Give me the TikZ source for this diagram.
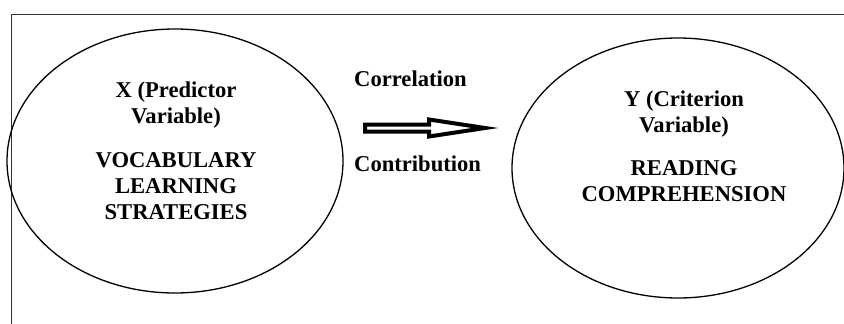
\documentclass[tikz,border=0pt]{standalone}
\usepackage{fontspec}
\setmainfont{Liberation Serif}
\usetikzlibrary{shapes.geometric}
\begin{document}
\begin{tikzpicture}[x=1pt,y=-1pt,
    frameline/.style={draw=black!80, line width=1pt},
    varellipse/.style={ellipse, draw=black, line width=1.3pt, inner sep=0pt, outer sep=0pt},
    vartext/.style={anchor=base, inner sep=0pt, font=\fontsize{22.6}{26}\selectfont\bfseries},
    hollowarrow/.style={draw=black, fill=white, line width=4pt, line join=miter, miter limit=10}]
  \useasboundingbox (0,0) rectangle (844,324);

  % open frame: left and top edges only
  \draw[frameline] (11,324) -- (11,14) -- (844,14);

  % the two variables
  \node[varellipse, minimum width=336pt, minimum height=264pt] (pred) at (175,161) {};
  \node[varellipse, minimum width=332pt, minimum height=260pt] (crit) at (678,168) {};

  % predictor labels
  \node[vartext] (p1) at (176,97)  {X (Predictor};
  \node[vartext] (p2) at (176,123) {Variable)};
  \node[vartext] (p3) at (176,167) {VOCABULARY};
  \node[vartext] (p4) at (176,193) {LEARNING};
  \node[vartext] (p5) at (176,219) {STRATEGIES};

  % criterion labels
  \node[vartext] (c1) at (684,106) {Y (Criterion};
  \node[vartext] (c2) at (684,132) {Variable)};
  \node[vartext] (c3) at (684,175) {READING};
  \node[vartext] (c4) at (684,201) {COMPREHENSION};

  % relation labels
  \node[vartext, anchor=base west] (rel1) at (354,86)  {Correlation};
  \node[vartext, anchor=base west] (rel2) at (354,171) {Contribution};

  % hollow block arrow between the ellipses
  \draw[hollowarrow] (365,124.5) -- (429,124.5) -- (429,119.5) -- (485,128)
        -- (429,136.5) -- (429,131.5) -- (365,131.5) -- cycle;
\end{tikzpicture}
\end{document}
